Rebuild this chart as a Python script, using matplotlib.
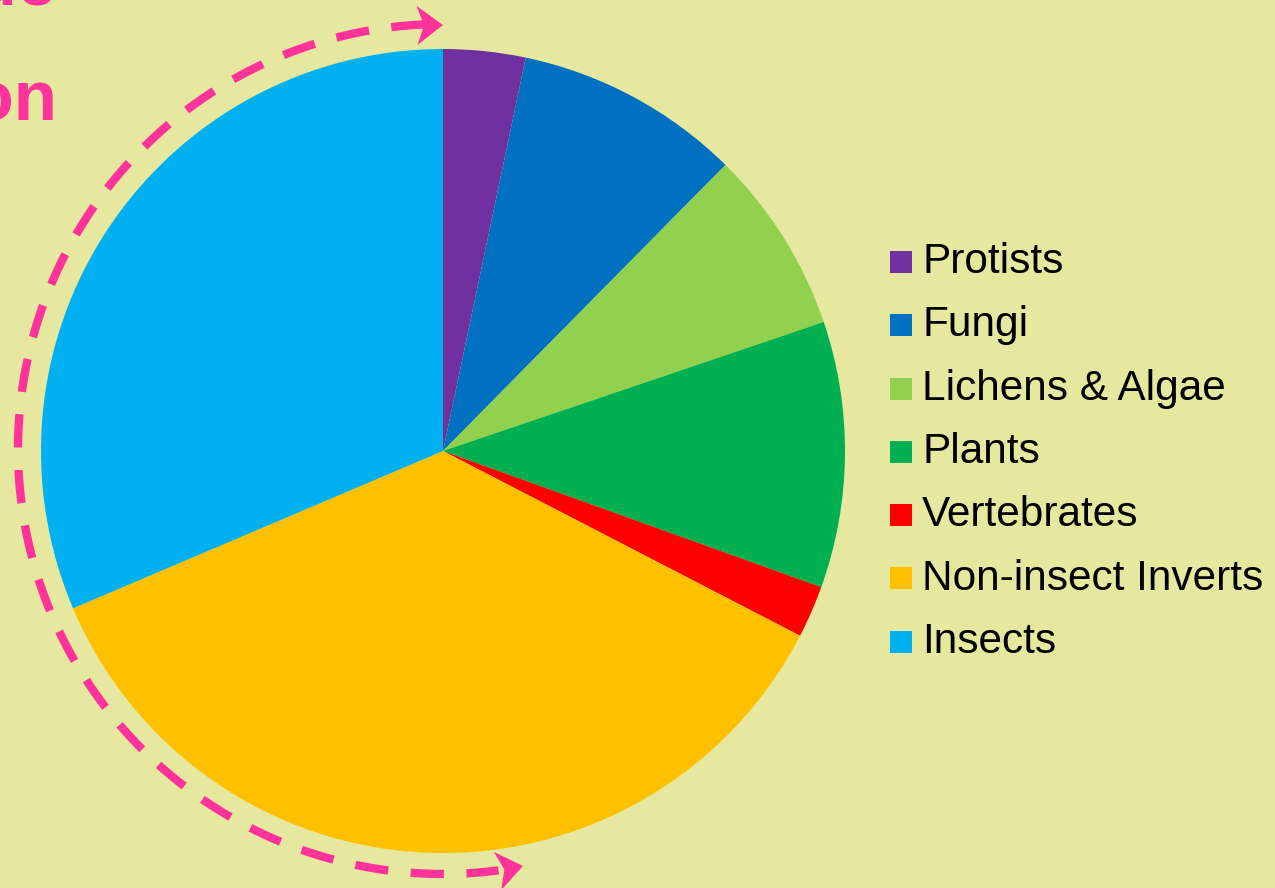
import matplotlib.pyplot as plt
import numpy as np
from matplotlib.patches import Rectangle, Polygon

plt.rcParams['font.family'] = ['Liberation Sans', 'DejaVu Sans']

groups = ['Protists', 'Fungi', 'Lichens & Algae', 'Plants', 'Vertebrates',
          'Non-insect Inverts', 'Insects']
shares = [3.3, 9.1, 7.4, 10.7, 2.1, 36.0, 31.4]
colours = ['#7030A0', '#0070C0', '#92D050', '#00B050', '#FF0000', '#FFC000', '#00B0F0']

bg = '#E5E89E'
pink = '#FF3399'
W, H = 1275, 888

fig = plt.figure(figsize=(12.75, 8.88), dpi=100, facecolor=bg)
ax = fig.add_axes([0, 0, 1, 1])
ax.set_facecolor(bg)

# pie, centre and radius in pixels
cx, cy, r = 443, H - 451, 402
ax.pie(shares, colors=colours, startangle=90, counterclock=False,
       center=(cx, cy), radius=r, wedgeprops=dict(linewidth=0), frame=True)
ax.set_xlim(0, W)
ax.set_ylim(0, H)
ax.set_aspect('equal')
ax.axis('off')

# legend
base0, step = H - 273, 63.3
for i, (g, c) in enumerate(zip(groups, colours)):
    yb = base0 - i * step
    ax.add_patch(Rectangle((890, yb), 22, 22, facecolor=c, edgecolor='none'))
    ax.text(922, yb, g, fontsize=30.5, color='black', va='baseline', ha='left')

# dashed arc with arrowheads
ar = 425
acy = H - 449
t = np.radians(np.linspace(92.5, 277.5, 400))
ax.plot(cx + ar * np.cos(t), acy + ar * np.sin(t), color=pink, lw=6,
        linestyle=(0, (4.0, 2.7)), solid_capstyle='butt', dash_capstyle='butt')


def arrowhead(tip, direction, length=26, width=39, notch=7):
    d = np.array(direction, float)
    d /= np.hypot(*d)
    n = np.array([-d[1], d[0]])
    tip = np.array(tip, float)
    back = tip - d * length
    pts = [tip, back + n * width / 2, tip - d * (length - notch), back - n * width / 2]
    ax.add_patch(Polygon(pts, closed=True, facecolor=pink, edgecolor='none'))


arrowhead((443, H - 25), (1, 0.02))
ang = np.radians(281)
arrowhead((523, H - 866), (-np.sin(ang), np.cos(ang)))

# cut-off pink caption at top-left
ax.text(57, H - 5, 'Value', fontsize=51, fontweight='bold', color=pink,
        ha='right', va='baseline')
ax.text(57, H - 120, 'Proportion', fontsize=51, fontweight='bold', color=pink,
        ha='right', va='baseline')

fig.savefig('out.png', dpi=100, facecolor=bg)
